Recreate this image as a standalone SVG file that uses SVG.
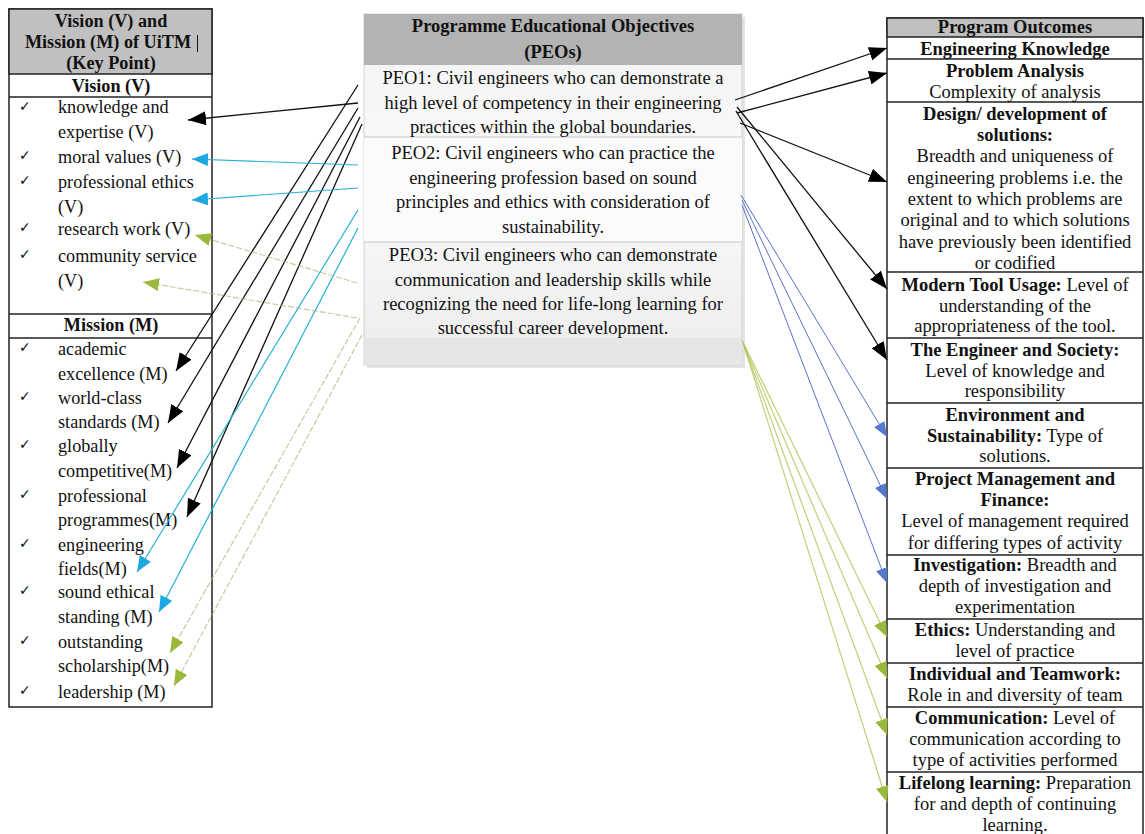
<svg xmlns="http://www.w3.org/2000/svg" width="1145" height="834" viewBox="0 0 1145 834">
<style>
.t{font-family:"Liberation Serif","Times New Roman",serif;font-size:18.5px;fill:#111}
.l{font-size:18.2px}
.b{font-weight:bold}
.m{text-anchor:middle}
.ck{font-family:"DejaVu Sans",sans-serif;font-size:14px;fill:#111}
.bx{fill:#fff;stroke:#222;stroke-width:1.5}
.hd{fill:#c0c0c0;stroke:#222;stroke-width:1.5}
.sep{stroke:#222;stroke-width:1.5}
.k{stroke:#111;stroke-width:1.3;fill:none;marker-end:url(#ak)}
.c{stroke:#25b0d8;stroke-width:1.2;fill:none;marker-end:url(#ac)}
.g{stroke:#a9c24a;stroke-width:1.2;fill:none;stroke-opacity:0.75;marker-end:url(#ag)}
.gl{stroke:#a9b878;stroke-width:1.2;fill:none;stroke-opacity:0.7;stroke-dasharray:6 2;marker-end:url(#ag)}
.u{stroke:#5a72c8;stroke-width:1;fill:none;marker-end:url(#au)}
</style>
<defs>
<marker id="ak" markerUnits="userSpaceOnUse" markerWidth="18" markerHeight="14" refX="18" refY="7" orient="auto"><path d="M0,0 L18,7 L0,14 z" fill="#000"/></marker>
<marker id="ac" markerUnits="userSpaceOnUse" markerWidth="16" markerHeight="13" refX="16" refY="6.5" orient="auto"><path d="M0,0 L16,6.5 L0,13 z" fill="#1ea8e2"/></marker>
<marker id="ag" markerUnits="userSpaceOnUse" markerWidth="16" markerHeight="13" refX="16" refY="6.5" orient="auto"><path d="M0,0 L16,6.5 L0,13 z" fill="#9ab83c"/></marker>
<marker id="au" markerUnits="userSpaceOnUse" markerWidth="15" markerHeight="12" refX="15" refY="6" orient="auto"><path d="M0,0 L15,6 L0,12 z" fill="#5577cc"/></marker>
<linearGradient id="peo" x1="0" y1="0" x2="0" y2="1">
<stop offset="0" stop-color="#f3f3f3"/><stop offset="0.5" stop-color="#fafafa"/><stop offset="1" stop-color="#ececec"/>
</linearGradient>
</defs>
<rect width="1145" height="834" fill="#fff"/>

<g id="vision-mission">
<rect class="bx" x="9" y="9" width="203" height="698"/>
<rect class="hd" x="9" y="9" width="203" height="65"/>
<text class="t l b m" x="111" y="27">Vision (V) and</text>
<text class="t l b m" x="108" y="48">Mission (M) of UiTM</text>
<line x1="197.5" y1="35" x2="197.5" y2="52" stroke="#111" stroke-width="1"/>
<text class="t l b m" x="111" y="69">(Key Point)</text>
<line class="sep" x1="9" y1="97" x2="212" y2="97"/>
<text class="t l b m" x="111" y="92">Vision (V)</text>
<text class="ck" x="19" y="111">✓</text><text class="t l" x="58" y="113">knowledge and</text>
<text class="t l" x="58" y="138">expertise (V)</text>
<text class="ck" x="19" y="160">✓</text><text class="t l" x="58" y="163">moral values (V)</text>
<text class="ck" x="19" y="185">✓</text><text class="t l" x="58" y="188">professional ethics</text>
<text class="t l" x="58" y="213">(V)</text>
<text class="ck" x="19" y="232">✓</text><text class="t l" x="58" y="235">research work (V)</text>
<text class="ck" x="19" y="259">✓</text><text class="t l" x="58" y="262">community service</text>
<text class="t l" x="58" y="287">(V)</text>
<line class="sep" x1="9" y1="314" x2="212" y2="314"/>
<line class="sep" x1="9" y1="338" x2="212" y2="338"/>
<text class="t l b m" x="111" y="331">Mission (M)</text>
<text class="ck" x="19" y="352">✓</text><text class="t l" x="58" y="355">academic</text>
<text class="t l" x="58" y="380">excellence (M)</text>
<text class="ck" x="19" y="401">✓</text><text class="t l" x="58" y="404">world-class</text>
<text class="t l" x="58" y="428">standards (M)</text>
<text class="ck" x="19" y="449">✓</text><text class="t l" x="58" y="452">globally</text>
<text class="t l" x="58" y="477">competitive(M)</text>
<text class="ck" x="19" y="499">✓</text><text class="t l" x="58" y="502">professional</text>
<text class="t l" x="58" y="526">programmes(M)</text>
<text class="ck" x="19" y="548">✓</text><text class="t l" x="58" y="551">engineering</text>
<text class="t l" x="58" y="575">fields(M)</text>
<text class="ck" x="19" y="595">✓</text><text class="t l" x="58" y="598">sound ethical</text>
<text class="t l" x="58" y="623">standing (M)</text>
<text class="ck" x="19" y="645">✓</text><text class="t l" x="58" y="648">outstanding</text>
<text class="t l" x="58" y="672">scholarship(M)</text>
<text class="ck" x="19" y="695">✓</text><text class="t l" x="58" y="698">leadership (M)</text>
</g>

<g id="peos">
<rect x="367" y="17" width="378" height="351" fill="#e4e4e4"/>
<rect x="364" y="14" width="378" height="351" fill="url(#peo)" stroke="#d2d2d2" stroke-width="1"/>
<rect x="364" y="14" width="378" height="51" fill="#b3b3b3"/>
<rect x="364" y="137" width="378" height="105" fill="#fbfbfb"/>
<rect x="364" y="338" width="378" height="27" fill="#e6e6e6"/>
<line x1="364" y1="137" x2="742" y2="137" stroke="#c8c8c8"/>
<line x1="364" y1="242" x2="742" y2="242" stroke="#c8c8c8"/>
<text class="t b m" x="553" y="32">Programme Educational Objectives</text>
<text class="t b m" x="553" y="58">(PEOs)</text>
<text class="t m" x="553" y="84">PEO1: Civil engineers who can demonstrate a</text>
<text class="t m" x="553" y="109">high level of competency in their engineering</text>
<text class="t m" x="553" y="133">practices within the global boundaries.</text>
<text class="t m" x="553" y="159">PEO2: Civil engineers who can practice the</text>
<text class="t m" x="553" y="184">engineering profession based on sound</text>
<text class="t m" x="553" y="208">principles and ethics with consideration of</text>
<text class="t m" x="553" y="233">sustainability.</text>
<text class="t m" x="553" y="261">PEO3: Civil engineers who can demonstrate</text>
<text class="t m" x="553" y="286">communication and leadership skills while</text>
<text class="t m" x="553" y="310">recognizing the need for life-long learning for</text>
<text class="t m" x="553" y="334">successful career development.</text>
</g>

<g id="program-outcomes">
<rect class="bx" x="887" y="18" width="256" height="830"/>
<rect class="hd" x="887" y="18" width="256" height="19"/>
<text class="t b m" x="1015" y="33">Program Outcomes</text>
<line class="sep" x1="887" y1="59" x2="1143" y2="59"/>
<text class="t b m" x="1015" y="55">Engineering Knowledge</text>
<line class="sep" x1="887" y1="102" x2="1143" y2="102"/>
<text class="t b m" x="1015" y="77">Problem Analysis</text>
<text class="t m" x="1015" y="98">Complexity of analysis</text>
<line class="sep" x1="887" y1="272" x2="1143" y2="272"/>
<text class="t b m" x="1015" y="120">Design/ development of</text>
<text class="t b m" x="1015" y="141">solutions:</text>
<text class="t m" x="1015" y="162">Breadth and uniqueness of</text>
<text class="t m" x="1015" y="184">engineering problems i.e. the</text>
<text class="t m" x="1015" y="205">extent to which problems are</text>
<text class="t m" x="1015" y="226">original and to which solutions</text>
<text class="t m" x="1015" y="248">have previously been identified</text>
<text class="t m" x="1015" y="269">or codified</text>
<line class="sep" x1="887" y1="338" x2="1143" y2="338"/>
<text class="t m" x="1015" y="291"><tspan class="b">Modern Tool Usage:</tspan> Level of</text>
<text class="t m" x="1015" y="312">understanding of the</text>
<text class="t m" x="1015" y="332">appropriateness of the tool.</text>
<line class="sep" x1="887" y1="403" x2="1143" y2="403"/>
<text class="t b m" x="1015" y="356">The Engineer and Society:</text>
<text class="t m" x="1015" y="377">Level of knowledge and</text>
<text class="t m" x="1015" y="397">responsibility</text>
<line class="sep" x1="887" y1="468" x2="1143" y2="468"/>
<text class="t b m" x="1015" y="421">Environment and</text>
<text class="t m" x="1015" y="442"><tspan class="b">Sustainability:</tspan> Type of</text>
<text class="t m" x="1015" y="462">solutions.</text>
<line class="sep" x1="887" y1="555" x2="1143" y2="555"/>
<text class="t b m" x="1015" y="485">Project Management and</text>
<text class="t b m" x="1015" y="506">Finance:</text>
<text class="t m" x="1015" y="527">Level of management required</text>
<text class="t m" x="1015" y="549">for differing types of activity</text>
<line class="sep" x1="887" y1="619" x2="1143" y2="619"/>
<text class="t m" x="1015" y="571"><tspan class="b">Investigation:</tspan> Breadth and</text>
<text class="t m" x="1015" y="592">depth of investigation and</text>
<text class="t m" x="1015" y="613">experimentation</text>
<line class="sep" x1="887" y1="663" x2="1143" y2="663"/>
<text class="t m" x="1015" y="636"><tspan class="b">Ethics:</tspan> Understanding and</text>
<text class="t m" x="1015" y="657">level of practice</text>
<line class="sep" x1="887" y1="707" x2="1143" y2="707"/>
<text class="t b m" x="1015" y="680">Individual and Teamwork:</text>
<text class="t m" x="1015" y="701">Role in and diversity of team</text>
<line class="sep" x1="887" y1="772" x2="1143" y2="772"/>
<text class="t m" x="1015" y="724"><tspan class="b">Communication:</tspan> Level of</text>
<text class="t m" x="1015" y="745">communication according to</text>
<text class="t m" x="1015" y="766">type of activities performed</text>
<text class="t m" x="1015" y="789"><tspan class="b">Lifelong learning:</tspan> Preparation</text>
<text class="t m" x="1015" y="810">for and depth of continuing</text>
<text class="t m" x="1015" y="831">learning.</text>
</g>

<g id="connectors">
<line class="k" x1="358" y1="103" x2="188" y2="120"/>
<line class="k" x1="358" y1="85" x2="176" y2="371"/>
<line class="k" x1="358" y1="108" x2="168" y2="423"/>
<line class="k" x1="360" y1="117" x2="177" y2="468"/>
<line class="k" x1="362" y1="124" x2="187" y2="517"/>
<line class="c" x1="358" y1="165" x2="192" y2="159"/>
<line class="c" x1="358" y1="188" x2="192" y2="200"/>
<line class="c" x1="358" y1="210" x2="137" y2="572"/>
<line class="c" x1="358" y1="228" x2="159" y2="612"/>
<line class="gl" x1="357" y1="283" x2="195" y2="235"/>
<line class="gl" x1="357" y1="318" x2="143" y2="282"/>
<line class="gl" x1="360" y1="318" x2="170" y2="653"/>
<line class="gl" x1="362" y1="335" x2="174" y2="686"/>
<line class="k" x1="735" y1="100" x2="887" y2="48"/>
<line class="k" x1="737" y1="113" x2="887" y2="73"/>
<line class="k" x1="740" y1="123" x2="887" y2="182"/>
<line class="k" x1="737" y1="107" x2="887" y2="289"/>
<line class="k" x1="736" y1="111" x2="887" y2="360"/>
<line class="u" x1="741" y1="195" x2="887" y2="437"/>
<line class="u" x1="742" y1="200" x2="887" y2="499"/>
<line class="u" x1="742" y1="205" x2="887" y2="583"/>
<line class="g" x1="742" y1="340" x2="887" y2="637"/>
<line class="g" x1="743" y1="343" x2="887" y2="678"/>
<line class="g" x1="744" y1="346" x2="887" y2="735"/>
<line class="g" x1="745" y1="349" x2="887" y2="802"/>
</g>
</svg>
